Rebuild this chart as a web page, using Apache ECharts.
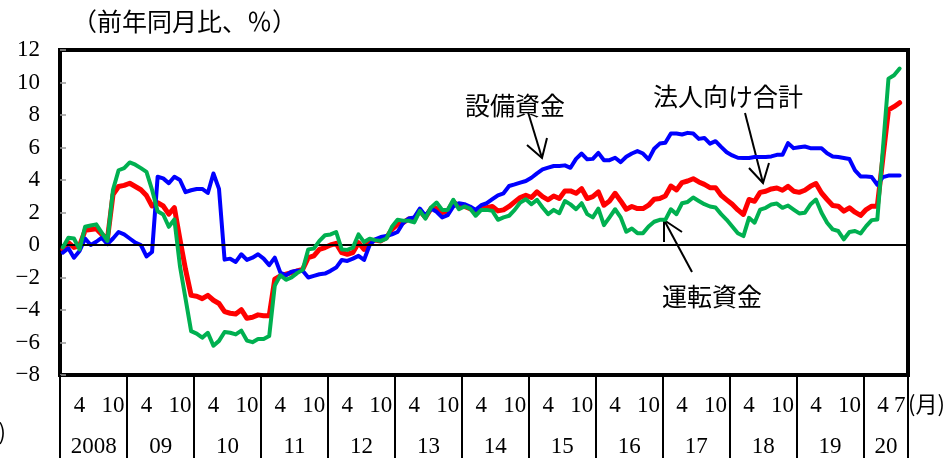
<!DOCTYPE html>
<html>
<head>
<meta charset="utf-8">
<script src="https://cdn.jsdelivr.net/npm/echarts@6/dist/echarts.min.js"></script>
<style>
  html, body { margin: 0; padding: 0; background: #fff; }
  #chart { width: 951px; height: 458px; }
</style>
</head>
<body>
<div id="chart"></div>
<script>
// Year labels along the bottom and how many months each year spans on the axis
const years = ['2008', '09', '10', '11', '12', '13', '14', '15', '16', '17', '18', '19', '20'];
const monthsPerYear = [12, 12, 12, 12, 12, 12, 12, 12, 12, 12, 12, 12, 8];
// Month tick labels (full years / final year)
const monthTicks = [4, 10];
const lastYearMonthTicks = [4, 7];
const yTicks = { min: -8, max: 12, step: 2 };

// 設備資金 (y/y %, monthly from 2008/1)
const setsubi = [
  -0.47, -0.2, -0.78, -0.37, 0.4, 0.0, 0.2, 0.45, 0.05, 0.4, 0.8, 0.65,
  0.4, 0.15, 0.0, -0.7, -0.43, 4.2, 4.1, 3.8, 4.2, 4.0, 3.25, 3.37,
  3.45, 3.45, 3.2, 4.4, 3.45, -0.9, -0.84, -1.04, -0.57, -0.92, -0.78, -0.57,
  -0.84, -1.24, -0.78, -1.7, -1.86, -1.65, -1.59, -1.59, -2.0, -1.9, -1.8, -1.76,
  -1.59, -1.39, -0.92, -0.98, -0.84, -0.67, -0.92, 0.0, 0.35, 0.49, 0.55, 0.65,
  0.8, 1.35, 1.63, 1.7, 2.24, 1.8, 2.24, 2.04, 1.7, 1.84, 2.37, 2.57,
  2.51, 2.37, 2.16, 2.45, 2.57, 2.82, 3.06, 3.18, 3.63, 3.73, 3.84, 3.94,
  4.14, 4.41, 4.65, 4.76, 4.86, 4.86, 4.9, 4.75, 5.3, 5.63, 5.27, 5.3,
  5.67, 5.22, 5.22, 5.37, 5.1, 5.43, 5.63, 5.78, 5.63, 5.27, 5.92, 6.24,
  6.29, 6.86, 6.86, 6.8, 6.9, 6.86, 6.53, 6.59, 6.24, 6.39, 6.04, 5.71,
  5.51, 5.37, 5.35, 5.35, 5.41, 5.41, 5.41, 5.45, 5.55, 5.55, 6.27, 5.96,
  6.02, 6.06, 5.96, 5.96, 5.96, 5.65, 5.45, 5.41, 5.35, 5.29, 4.59, 4.22,
  4.22, 4.18, 3.71, 4.18, 4.27, 4.27, 4.27
];

// 法人向け合計
const houjin = [
  -0.27, 0.15, -0.15, -0.05, 0.9, 0.95, 1.0, 0.65, 0.35, 3.1, 3.6, 3.67,
  3.8, 3.6, 3.4, 3.04, 2.4, 2.6, 2.4, 1.9, 2.3, 0.35, -1.5, -3.1,
  -3.15, -3.3, -3.1, -3.4, -3.6, -4.1, -4.2, -4.24, -3.98, -4.51, -4.45, -4.3,
  -4.35, -4.35, -2.1, -1.9, -1.8, -1.7, -1.6, -1.5, -0.78, -0.67, -0.27, -0.16,
  0.0, 0.1, -0.47, -0.57, -0.47, 0.14, -0.27, 0.25, 0.3, 0.25, 0.45, 0.96,
  1.27, 1.38, 1.6, 1.63, 2.1, 1.7, 2.24, 2.24, 2.0, 2.1, 2.65, 2.4,
  2.37, 2.24, 2.1, 2.29, 2.29, 2.37, 2.1, 2.16, 2.37, 2.65, 2.92, 3.06,
  2.92, 3.27, 2.98, 2.78, 3.02, 2.86, 3.33, 3.33, 3.18, 3.47, 2.86, 2.98,
  3.27, 2.45, 2.71, 3.18, 2.71, 2.2, 2.37, 2.24, 2.24, 2.45, 2.82, 2.86,
  3.02, 3.63, 3.39, 3.84, 3.94, 4.08, 3.88, 3.73, 3.53, 3.53, 3.06, 2.78,
  2.51, 2.16, 1.88, 2.8, 2.69, 3.24, 3.31, 3.45, 3.51, 3.37, 3.61, 3.31,
  3.24, 3.37, 3.61, 3.78, 3.2, 2.8, 2.43, 2.39, 2.08, 2.29, 2.02, 1.82,
  2.18, 2.39, 2.39, 5.35, 8.31, 8.51, 8.76
];

// 運転資金
const unten = [
  -0.15, 0.45, 0.4, -0.27, 1.12, 1.2, 1.27, 0.75, 0.25, 3.4, 4.6, 4.73,
  5.08, 4.94, 4.73, 4.5, 3.4, 2.08, 1.88, 1.12, 1.57, -1.3, -3.3, -5.3,
  -5.45, -5.7, -5.4, -6.2, -5.9, -5.35, -5.4, -5.5, -5.27, -5.88, -5.98, -5.78,
  -5.78, -5.6, -2.5, -1.86, -2.14, -2.0, -1.73, -1.53, -0.27, -0.22, 0.25, 0.6,
  0.65, 0.8, -0.27, -0.3, -0.16, 0.65, 0.18, 0.39, 0.3, 0.25, 0.39, 1.12,
  1.55, 1.5, 1.49, 1.39, 2.1, 1.63, 2.31, 2.61, 2.16, 2.16, 2.78, 2.2,
  2.37, 2.24, 1.8, 2.16, 2.16, 2.1, 1.55, 1.7, 1.8, 2.16, 2.61, 2.82,
  2.51, 2.78, 2.31, 1.9, 2.16, 1.96, 2.71, 2.5, 2.2, 2.57, 1.9, 1.7,
  2.24, 1.22, 1.7, 2.2, 1.7, 0.82, 1.02, 0.73, 0.73, 1.14, 1.43, 1.55,
  1.55, 2.2, 1.9, 2.57, 2.65, 2.92, 2.71, 2.51, 2.37, 2.31, 1.9, 1.55,
  1.14, 0.72, 0.55, 1.67, 1.37, 2.18, 2.29, 2.49, 2.55, 2.29, 2.43, 2.18,
  1.94, 1.98, 2.49, 2.8, 1.98, 1.37, 0.96, 0.86, 0.35, 0.8, 0.86, 0.71,
  1.16, 1.53, 1.57, 5.9, 10.24, 10.45, 10.86
];

// Build the monthly category axis
const categories = [];
const monthOf = [];
const yearOf = [];
years.forEach(function (y, yi) {
  for (let m = 1; m <= monthsPerYear[yi]; m++) {
    categories.push(y + '/' + m);
    monthOf.push(m);
    yearOf.push(yi);
  }
});
const lastYear = years.length - 1;

const NUM_FONT = '"Liberation Serif", "DejaVu Serif", serif';
const JP_FONT = '"Noto Sans CJK JP", sans-serif';

function isMonthLabel(i) {
  const ticks = yearOf[i] === lastYear ? lastYearMonthTicks : monthTicks;
  return ticks.indexOf(monthOf[i]) !== -1;
}
function isYearLabel(i) {
  // label sits one band left of the year's middle; padding nudges it to the centre
  const mid = Math.floor(monthsPerYear[yearOf[i]] / 2);
  return monthOf[i] === mid;
}

function arrow(points, tip, wingA, wingB) {
  return [
    { type: 'polyline', shape: { points: points },
      style: { stroke: '#000', lineWidth: 2, fill: null } },
    { type: 'polyline', shape: { points: [wingA, tip, wingB] },
      style: { stroke: '#000', lineWidth: 2, fill: null } }
  ];
}

const chart = echarts.init(document.getElementById('chart'), null, { renderer: 'canvas' });

const lineSeries = function (name, data, color, width, z) {
  return {
    name: name, type: 'line', data: data, xAxisIndex: 0,
    showSymbol: false, symbol: 'none', smooth: false, z: z,
    lineStyle: { color: color, width: width, join: 'round', cap: 'round' },
    emphasis: { disabled: true },
    animation: false
  };
};

const series = [
  lineSeries('法人向け合計', houjin, '#ff0000', 5, 3),
  lineSeries('設備資金', setsubi, '#0000ff', 4, 4),
  lineSeries('運転資金', unten, '#00b050', 4, 5)
];
series[0].markLine = {
  silent: true, symbol: ['none', 'none'], animation: false,
  label: { show: false },
  lineStyle: { color: '#000', width: 2, type: 'solid' },
  data: [{ yAxis: 0 }]
};

chart.setOption({
  animation: false,
  backgroundColor: '#fff',
  grid: {
    left: 60, right: 43, top: 50, bottom: 82,
    show: true, borderColor: '#000', borderWidth: 4, backgroundColor: 'transparent'
  },
  xAxis: [
    {
      type: 'category', data: categories, boundaryGap: true, position: 'bottom',
      axisLine: { show: false, onZero: false },
      axisTick: {
        show: true, inside: false, length: 86,
        interval: function (i) { return monthOf[i] === 1; },
        lineStyle: { color: '#000', width: 2 }
      },
      axisLabel: {
        show: true, margin: 19,
        interval: function (i) { return isMonthLabel(i); },
        formatter: function (v, i) { return String(monthOf[i]); },
        fontFamily: NUM_FONT, fontSize: 23, color: '#000'
      },
      splitLine: { show: false }
    },
    {
      type: 'category', data: categories, boundaryGap: true, position: 'bottom',
      axisLine: { show: false, onZero: false },
      axisTick: { show: false },
      axisLabel: {
        show: true, margin: 60,
        interval: function (i) { return isYearLabel(i); },
        formatter: function (v, i) { return years[yearOf[i]]; },
        padding: [0, 0, 0, 6],
        fontFamily: NUM_FONT, fontSize: 23, color: '#000'
      },
      splitLine: { show: false }
    }
  ],
  yAxis: {
    type: 'value', min: yTicks.min, max: yTicks.max, interval: yTicks.step,
    axisLine: { show: false },
    axisTick: { show: true, inside: true, length: 6, lineStyle: { color: '#999', width: 1.5 } },
    splitLine: { show: false },
    axisLabel: {
      margin: 20, fontFamily: NUM_FONT, fontSize: 23, color: '#000',
      formatter: function (v) { return v < 0 ? '\u2212' + Math.abs(v) : String(v); }
    }
  },
  series: series,
  graphic: [
    { type: 'text', left: 72, top: 9,
      style: { text: '（前年同月比、％）', font: '25px ' + JP_FONT, fill: '#000' } },
    { type: 'text', x: 465, y: 105,
      style: { text: '設備資金', font: '25px ' + JP_FONT, fill: '#000', verticalAlign: 'middle' } },
    { type: 'text', x: 653, y: 96,
      style: { text: '法人向け合計', font: '25px ' + JP_FONT, fill: '#000', verticalAlign: 'middle' } },
    { type: 'text', x: 662, y: 296,
      style: { text: '運転資金', font: '25px ' + JP_FONT, fill: '#000', verticalAlign: 'middle' } },
    { type: 'text', x: 908, y: 404,
      style: { text: '(月)', font: '22px ' + JP_FONT, fill: '#000', verticalAlign: 'middle' } },
    { type: 'text', x: 6, y: 432,
      style: { text: '(年)', font: '22px ' + JP_FONT, fill: '#000', align: 'right', verticalAlign: 'middle' } }
  ]
    .concat(arrow([[528, 112], [542, 158]], [542, 158], [527, 145], [547, 138]))
    .concat(arrow([[745, 113], [763, 183]], [763, 183], [749, 168], [769, 163]))
    .concat(arrow([[692, 272], [664, 220]], [664, 220], [664, 242], [682, 232]))
});
</script>
</body>
</html>
